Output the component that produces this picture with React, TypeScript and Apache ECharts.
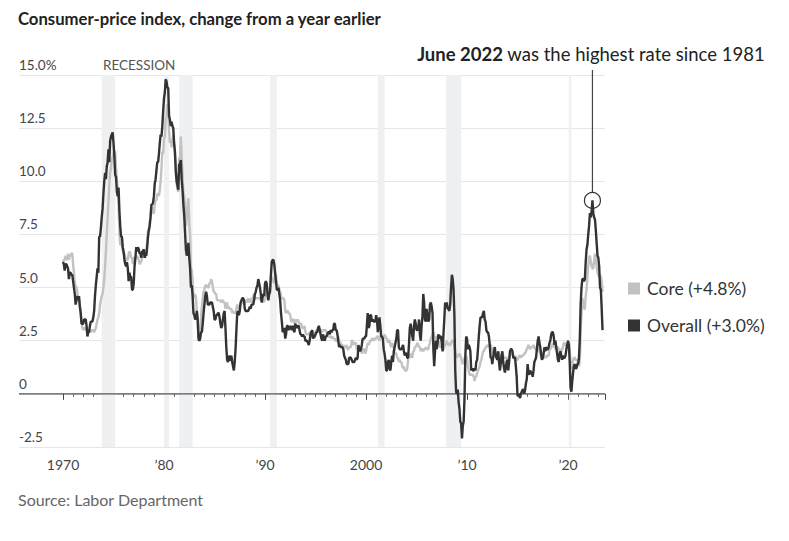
import React, { useEffect, useRef } from "react";
import * as echarts from "echarts";

const START_YEAR = 1970;

// Consumer-price index, all items, % change from a year earlier (monthly, Jan 1970 – Jun 2023)
const overall: number[] = [
  6.2, 6.1, 5.8, 6.1, 6.1, 6.0, 5.9, 5.4, 5.7, 5.7, 5.6, 5.6,
  5.3, 5.0, 4.7, 4.2, 4.4, 4.6, 4.4, 4.6, 4.1, 3.8, 3.3, 3.3,
  3.3, 3.5, 3.5, 3.5, 3.2, 2.7, 2.9, 2.9, 3.2, 3.4, 3.4, 3.4,
  3.6, 3.9, 4.6, 5.1, 5.5, 5.9, 5.7, 7.4, 7.4, 7.8, 8.3, 8.7,
  9.4, 10.0, 10.4, 10.1, 10.7, 10.9, 11.5, 10.9, 11.9, 12.1, 12.2, 12.3,
  11.8, 11.2, 10.3, 10.2, 9.5, 9.3, 9.7, 8.6, 7.9, 7.4, 7.4, 6.9,
  6.7, 6.3, 6.1, 6.0, 6.2, 5.9, 5.3, 5.7, 5.5, 5.5, 4.9, 4.9,
  5.2, 6.0, 6.4, 6.9, 6.7, 6.9, 6.8, 6.6, 6.6, 6.4, 6.7, 6.7,
  6.8, 6.4, 6.6, 6.5, 6.9, 7.4, 7.7, 7.9, 8.3, 8.9, 8.9, 9.0,
  9.3, 9.9, 10.1, 10.5, 10.9, 10.9, 11.3, 11.8, 12.2, 12.1, 12.6, 13.3,
  13.9, 14.2, 14.8, 14.7, 14.4, 14.4, 13.1, 12.9, 12.6, 12.8, 12.6, 12.5,
  11.8, 11.4, 10.5, 10.0, 9.8, 9.6, 10.8, 10.8, 11.0, 10.1, 9.6, 8.9,
  8.4, 7.6, 6.8, 6.5, 6.7, 7.1, 6.4, 5.9, 5.0, 5.1, 4.6, 3.8,
  3.7, 3.5, 3.6, 3.9, 3.5, 2.6, 2.5, 2.6, 2.9, 2.9, 3.3, 3.8,
  4.2, 4.6, 4.8, 4.6, 4.2, 4.2, 4.2, 4.3, 4.3, 4.3, 4.1, 3.9,
  3.5, 3.5, 3.7, 3.7, 3.8, 3.8, 3.6, 3.3, 3.1, 3.2, 3.5, 3.8,
  3.9, 3.1, 2.2, 1.6, 1.5, 1.8, 1.6, 1.6, 1.8, 1.5, 1.3, 1.1,
  1.5, 2.1, 3.0, 3.8, 3.9, 3.7, 3.9, 4.3, 4.4, 4.5, 4.5, 4.4,
  4.0, 3.9, 3.9, 3.9, 3.9, 4.0, 4.1, 4.0, 4.2, 4.2, 4.2, 4.4,
  4.7, 4.8, 5.0, 5.1, 5.4, 5.2, 5.0, 4.7, 4.3, 4.5, 4.7, 4.6,
  5.2, 5.3, 5.2, 4.7, 4.4, 4.7, 4.8, 5.6, 6.2, 6.3, 6.3, 6.1,
  5.7, 5.3, 4.9, 4.9, 5.0, 4.7, 4.4, 3.8, 3.4, 2.9, 3.0, 3.1,
  2.6, 2.8, 3.2, 3.2, 3.0, 3.1, 3.2, 3.1, 3.0, 3.2, 3.0, 2.9,
  3.3, 3.2, 3.1, 3.2, 3.2, 3.0, 2.8, 2.8, 2.7, 2.8, 2.7, 2.7,
  2.5, 2.5, 2.5, 2.4, 2.3, 2.5, 2.8, 2.9, 3.0, 2.6, 2.7, 2.7,
  2.8, 2.9, 2.9, 3.1, 3.2, 3.0, 2.8, 2.6, 2.5, 2.8, 2.6, 2.5,
  2.7, 2.7, 2.8, 2.9, 2.9, 2.8, 3.0, 2.9, 3.0, 3.0, 3.3, 3.3,
  3.0, 3.0, 2.8, 2.5, 2.2, 2.3, 2.2, 2.2, 2.2, 2.1, 1.8, 1.7,
  1.6, 1.4, 1.4, 1.4, 1.7, 1.7, 1.7, 1.6, 1.5, 1.5, 1.5, 1.6,
  1.7, 1.6, 1.7, 2.3, 2.1, 2.0, 2.1, 2.3, 2.6, 2.6, 2.6, 2.7,
  2.7, 3.2, 3.8, 3.1, 3.2, 3.7, 3.7, 3.4, 3.5, 3.4, 3.4, 3.4,
  3.7, 3.5, 2.9, 3.3, 3.6, 3.2, 2.7, 2.7, 2.6, 2.1, 1.9, 1.6,
  1.1, 1.1, 1.5, 1.6, 1.2, 1.1, 1.5, 1.8, 1.5, 2.0, 2.2, 2.4,
  2.6, 3.0, 3.0, 2.2, 2.1, 2.1, 2.1, 2.2, 2.3, 2.0, 1.8, 1.9,
  1.9, 1.7, 1.7, 2.3, 3.1, 3.3, 3.0, 2.7, 2.5, 3.2, 3.5, 3.3,
  3.0, 3.0, 3.1, 3.5, 2.8, 2.5, 3.2, 3.6, 4.7, 4.3, 3.5, 3.4,
  4.0, 3.6, 3.4, 3.5, 4.2, 4.3, 4.1, 3.8, 2.1, 1.3, 2.0, 2.5,
  2.1, 2.4, 2.8, 2.6, 2.7, 2.7, 2.4, 2.0, 2.8, 3.5, 4.3, 4.1,
  4.3, 4.0, 4.0, 3.9, 4.2, 5.0, 5.6, 5.4, 4.9, 3.7, 1.1, 0.1,
  0.0, 0.2, -0.4, -0.7, -1.3, -1.4, -2.1, -1.5, -1.3, -0.2, 1.8, 2.7,
  2.6, 2.1, 2.3, 2.2, 2.0, 1.1, 1.2, 1.1, 1.1, 1.2, 1.1, 1.5,
  1.6, 2.1, 2.7, 3.2, 3.6, 3.6, 3.6, 3.8, 3.9, 3.5, 3.4, 3.0,
  2.9, 2.9, 2.7, 2.3, 1.7, 1.7, 1.4, 1.7, 2.0, 2.2, 1.8, 1.7,
  1.6, 2.0, 1.5, 1.1, 1.4, 1.8, 2.0, 1.5, 1.2, 1.0, 1.2, 1.5,
  1.6, 1.1, 1.5, 2.0, 2.1, 2.1, 2.0, 1.7, 1.7, 1.7, 1.3, 0.8,
  -0.1, 0.0, -0.1, -0.2, 0.0, 0.1, 0.2, 0.2, 0.0, 0.2, 0.5, 0.7,
  1.4, 1.0, 0.9, 1.1, 1.0, 1.0, 0.8, 1.1, 1.5, 1.6, 1.7, 2.1,
  2.5, 2.7, 2.4, 2.2, 1.9, 1.6, 1.7, 1.9, 2.2, 2.0, 2.2, 2.1,
  2.1, 2.2, 2.4, 2.5, 2.8, 2.9, 2.9, 2.7, 2.3, 2.5, 2.2, 1.9,
  1.6, 1.5, 1.9, 2.0, 1.8, 1.6, 1.8, 1.7, 1.7, 1.8, 2.1, 2.3,
  2.5, 2.3, 1.5, 0.3, 0.1, 0.6, 1.0, 1.3, 1.4, 1.2, 1.2, 1.4,
  1.4, 1.7, 2.6, 4.2, 5.0, 5.4, 5.4, 5.3, 5.4, 6.2, 6.8, 7.0,
  7.5, 7.9, 8.5, 8.3, 8.6, 9.1, 8.5, 8.3, 8.2, 7.7, 7.1, 6.5,
  6.4, 6.0, 5.0, 4.9, 4.0, 3.0,
];

// Core CPI (ex food and energy), % change from a year earlier
const core: number[] = [
  6.2, 6.3, 6.3, 6.5, 6.4, 6.3, 6.6, 6.3, 6.5, 6.5, 6.6, 6.6,
  6.1, 5.7, 5.2, 5.1, 5.0, 4.8, 4.5, 4.5, 4.2, 3.9, 3.4, 3.1,
  3.0, 3.1, 3.1, 3.0, 3.0, 3.0, 3.0, 3.0, 3.0, 2.9, 3.0, 3.0,
  3.0, 2.9, 3.0, 3.1, 3.3, 3.5, 3.6, 3.8, 4.2, 4.4, 4.6, 4.7,
  5.0, 5.4, 6.0, 6.7, 7.5, 8.3, 9.0, 9.9, 10.4, 10.6, 11.1, 11.1,
  11.3, 11.4, 11.4, 10.6, 10.1, 9.5, 8.9, 7.6, 7.0, 7.1, 7.0, 6.7,
  6.6, 6.6, 6.4, 6.3, 6.3, 6.3, 6.6, 6.7, 6.6, 6.4, 6.4, 6.1,
  6.4, 6.4, 6.4, 6.4, 6.5, 6.4, 6.3, 6.1, 6.2, 6.2, 6.4, 6.5,
  6.5, 6.5, 6.4, 6.8, 7.1, 7.7, 7.7, 8.1, 8.3, 8.7, 8.8, 8.5,
  8.5, 8.9, 9.1, 9.1, 9.4, 9.4, 9.3, 9.6, 10.0, 10.6, 11.4, 11.3,
  12.0, 12.1, 13.0, 13.0, 13.6, 13.6, 12.4, 11.8, 12.0, 11.6, 11.9, 12.2,
  11.8, 11.2, 10.4, 9.9, 9.6, 9.5, 11.1, 11.1, 12.1, 11.2, 10.3, 9.5,
  9.3, 8.7, 7.9, 8.3, 8.9, 9.2, 8.0, 7.5, 5.9, 5.8, 5.4, 4.5,
  4.6, 4.7, 4.5, 3.9, 3.5, 2.5, 2.7, 3.1, 3.6, 4.1, 4.5, 4.8,
  4.9, 5.1, 5.1, 5.1, 5.0, 5.0, 5.2, 5.2, 5.4, 5.3, 5.0, 4.8,
  4.8, 4.7, 4.7, 4.4, 4.4, 4.4, 4.4, 4.4, 4.3, 4.4, 4.4, 4.3,
  4.3, 4.0, 4.2, 4.3, 4.0, 4.1, 4.0, 4.0, 4.0, 3.8, 3.9, 3.8,
  3.8, 3.8, 4.0, 4.2, 4.1, 4.0, 4.1, 4.2, 4.3, 4.3, 4.4, 4.2,
  4.3, 4.4, 4.4, 4.3, 4.5, 4.3, 4.5, 4.4, 4.3, 4.4, 4.6, 4.7,
  4.5, 4.5, 4.5, 4.5, 4.5, 4.5, 4.5, 4.4, 4.4, 4.4, 4.3, 4.4,
  4.4, 4.6, 4.8, 4.9, 4.8, 5.0, 5.0, 5.5, 5.5, 5.3, 5.3, 5.2,
  5.6, 5.6, 5.2, 5.1, 5.1, 4.9, 4.8, 4.6, 4.5, 4.5, 4.5, 4.4,
  3.9, 3.8, 3.9, 3.9, 3.8, 3.8, 3.7, 3.4, 3.4, 3.5, 3.5, 3.3,
  3.5, 3.4, 3.4, 3.5, 3.4, 3.3, 3.3, 3.3, 3.1, 3.1, 3.1, 3.2,
  2.9, 2.8, 2.8, 2.8, 2.8, 2.9, 2.9, 2.9, 3.0, 2.9, 2.8, 2.6,
  2.9, 3.0, 3.0, 3.0, 3.1, 3.0, 3.0, 3.0, 2.9, 3.0, 3.0, 3.0,
  3.0, 2.9, 2.8, 2.7, 2.7, 2.7, 2.7, 2.6, 2.7, 2.6, 2.6, 2.6,
  2.5, 2.5, 2.5, 2.7, 2.5, 2.4, 2.4, 2.3, 2.2, 2.3, 2.2, 2.2,
  2.2, 2.3, 2.1, 2.1, 2.2, 2.2, 2.2, 2.5, 2.5, 2.3, 2.4, 2.4,
  2.4, 2.1, 2.1, 2.2, 2.0, 2.1, 2.1, 1.9, 2.0, 2.1, 2.1, 1.9,
  2.0, 2.2, 2.4, 2.3, 2.4, 2.5, 2.5, 2.6, 2.6, 2.5, 2.6, 2.6,
  2.6, 2.7, 2.7, 2.6, 2.5, 2.7, 2.7, 2.6, 2.6, 2.6, 2.8, 2.7,
  2.6, 2.6, 2.4, 2.5, 2.5, 2.3, 2.2, 2.4, 2.2, 2.2, 2.0, 1.9,
  1.9, 1.7, 1.7, 1.5, 1.6, 1.5, 1.5, 1.3, 1.2, 1.3, 1.1, 1.1,
  1.1, 1.2, 1.6, 1.8, 1.7, 1.9, 1.8, 1.7, 2.0, 2.0, 2.2, 2.2,
  2.3, 2.4, 2.3, 2.2, 2.2, 2.0, 2.1, 2.1, 2.0, 2.1, 2.1, 2.2,
  2.1, 2.1, 2.1, 2.3, 2.4, 2.6, 2.7, 2.8, 2.9, 2.7, 2.6, 2.6,
  2.7, 2.7, 2.5, 2.3, 2.2, 2.2, 2.2, 2.1, 2.1, 2.2, 2.3, 2.4,
  2.5, 2.3, 2.4, 2.3, 2.3, 2.4, 2.5, 2.5, 2.5, 2.2, 2.0, 1.8,
  1.7, 1.8, 1.8, 1.9, 1.8, 1.7, 1.5, 1.4, 1.5, 1.7, 1.7, 1.8,
  1.6, 1.3, 1.1, 0.9, 0.9, 0.9, 0.9, 0.9, 0.8, 0.6, 0.8, 0.8,
  1.0, 1.1, 1.2, 1.3, 1.5, 1.6, 1.8, 2.0, 2.0, 2.1, 2.2, 2.2,
  2.3, 2.2, 2.3, 2.3, 2.3, 2.2, 2.1, 1.9, 2.0, 2.0, 1.9, 1.9,
  1.9, 2.0, 1.9, 1.7, 1.7, 1.6, 1.7, 1.8, 1.7, 1.7, 1.7, 1.7,
  1.6, 1.6, 1.7, 1.8, 2.0, 1.9, 1.9, 1.7, 1.7, 1.8, 1.7, 1.6,
  1.6, 1.7, 1.8, 1.8, 1.7, 1.8, 1.8, 1.8, 1.9, 1.9, 2.0, 2.1,
  2.2, 2.3, 2.2, 2.1, 2.2, 2.2, 2.2, 2.3, 2.2, 2.1, 2.1, 2.2,
  2.3, 2.2, 2.0, 1.9, 1.7, 1.7, 1.7, 1.7, 1.7, 1.8, 1.7, 1.8,
  1.8, 1.8, 2.1, 2.1, 2.2, 2.3, 2.4, 2.2, 2.2, 2.1, 2.2, 2.2,
  2.2, 2.1, 2.0, 2.1, 2.0, 2.1, 2.2, 2.4, 2.4, 2.3, 2.3, 2.3,
  2.3, 2.4, 2.1, 1.4, 1.2, 1.2, 1.6, 1.7, 1.7, 1.6, 1.6, 1.6,
  1.4, 1.3, 1.6, 3.0, 3.8, 4.5, 4.3, 4.0, 4.0, 4.6, 4.9, 5.5,
  6.0, 6.4, 6.5, 6.2, 6.0, 5.9, 5.9, 6.3, 6.6, 6.3, 6.0, 5.7,
  5.6, 5.5, 5.6, 5.5, 5.3, 4.8,
];

// NBER recessions as [start, end] in decimal years
const recessionStarts: number[] = [1973.83, 1980.0, 1981.5, 1990.5, 2001.17, 2007.92, 2020.08];
const recessionEnds: number[] = [1975.17, 1980.5, 1982.83, 1991.17, 2001.83, 2009.42, 2020.33];

const decadeValues: number[] = [1970, 1980, 1990, 2000, 2010, 2020];
const decadeLabels: string[] = ["1970", "\u201980", "\u201990", "2000", "\u201910", "\u201920"];

const yTickValues: number[] = [-2.5, 0, 2.5, 5, 7.5, 10, 12.5, 15];
const yTickLabels: string[] = ["-2.5", "0", "2.5", "5.0", "7.5", "10.0", "12.5", "15.0%"];

const seriesNames = ["Core", "Overall"];
const latestCore = "+4.8%";
const latestOverall = "+3.0%";
const peakYear = 2022;
const peakMonth = 6;

const FONT = "Lato, 'Noto Sans', sans-serif";

export default function App() {
  const ref = useRef<HTMLDivElement>(null);

  useEffect(() => {
    document.body.style.margin = "0";
    if (!ref.current) return;
    const chart = echarts.init(ref.current, undefined, { renderer: "svg" });

    const toXY = (arr: number[]) => arr.map((v, i) => [START_YEAR + i / 12, v]);
    const peakX = peakYear + (peakMonth - 1) / 12;
    const peakIdx = (peakYear - START_YEAR) * 12 + (peakMonth - 1);
    const peakVal = overall[peakIdx];

    const gridTop = 75;
    const gridHeight = 372;
    const gridRight = 184;

    const option: any = {
      animation: false,
      backgroundColor: "#ffffff",
      textStyle: { fontFamily: FONT },
      grid: [
        { left: 63, right: gridRight, top: gridTop, height: gridHeight, containLabel: false },
        { left: 19, right: gridRight, top: gridTop, height: gridHeight, containLabel: false },
      ],
      xAxis: [
        {
          type: "value",
          gridIndex: 0,
          min: 1970,
          max: 2023.66,
          interval: 10,
          axisLine: { show: false },
          splitLine: { show: false },
          axisTick: { show: true, length: 6, lineStyle: { color: "#444", width: 1 } },
          minorTick: { show: true, splitNumber: 10, length: 3, lineStyle: { color: "#666", width: 1 } },
          minorSplitLine: { show: false },
          axisLabel: {
            margin: 10,
            color: "#444",
            fontSize: 14,
            fontFamily: FONT,
            formatter: (v: number) => {
              const i = decadeValues.indexOf(Math.round(v));
              return i >= 0 ? decadeLabels[i] : "";
            },
          },
        },
        {
          type: "value",
          gridIndex: 1,
          min: 0,
          max: 1,
          show: false,
        },
      ],
      yAxis: [
        {
          type: "value",
          gridIndex: 0,
          min: -2.5,
          max: 15,
          interval: 2.5,
          show: false,
        },
        {
          type: "value",
          gridIndex: 1,
          min: -2.5,
          max: 15,
          interval: 2.5,
          axisLine: { show: false },
          axisTick: { show: false },
          splitLine: { show: true, lineStyle: { color: "#e6e6e6", width: 1 } },
          axisLabel: {
            inside: true,
            margin: 0,
            align: "left",
            verticalAlign: "bottom",
            padding: [0, 0, 3, 0],
            color: "#444",
            fontSize: 13.5,
            fontFamily: FONT,
            formatter: (v: number) => {
              const i = yTickValues.indexOf(v);
              return i >= 0 ? yTickLabels[i] : "";
            },
          },
        },
      ],
      legend: {
        orient: "vertical",
        left: 623,
        top: 274,
        itemWidth: 12,
        itemHeight: 12,
        itemGap: 18,
        icon: "rect",
        selectedMode: false,
        data: seriesNames,
        textStyle: { fontSize: 17.5, color: "#333", fontFamily: FONT, lineHeight: 19, padding: [0, 0, 0, 2] },
        formatter: (name: string) =>
          name === "Core" ? `Core (${latestCore})` : `Overall (${latestOverall})`,
      },
      series: [
        {
          name: "zero",
          type: "line",
          xAxisIndex: 1,
          yAxisIndex: 1,
          data: [
            [0, 0],
            [1, 0],
          ],
          showSymbol: false,
          silent: true,
          lineStyle: { color: "#555", width: 1.3 },
          z: 1,
        },
        {
          name: "Core",
          type: "line",
          xAxisIndex: 0,
          yAxisIndex: 0,
          data: toXY(core),
          showSymbol: false,
          lineStyle: { color: "#c2c2c2", width: 2.4 },
          itemStyle: { color: "#c2c2c2" },
          z: 3,
          markArea: {
            silent: true,
            itemStyle: { color: "#eff0f2" },
            data: recessionStarts.map((s, i) => [{ xAxis: s }, { xAxis: recessionEnds[i] }]),
          },
        },
        {
          name: "Overall",
          type: "line",
          xAxisIndex: 0,
          yAxisIndex: 0,
          data: toXY(overall),
          showSymbol: false,
          lineStyle: { color: "#333333", width: 2.4 },
          itemStyle: { color: "#333333" },
          z: 4,
        },
      ],
      graphic: [
        {
          type: "text",
          left: 18,
          top: 10,
          style: {
            text: "Consumer-price index, change from a year earlier",
            fontFamily: FONT,
            fontSize: 16.7,
            fontWeight: "bold",
            fill: "#222",
          },
        },
        {
          type: "text",
          left: 103,
          top: 58,
          style: { text: "RECESSION", fontFamily: FONT, fontSize: 13.5, fill: "#555" },
        },
        {
          type: "text",
          left: 18,
          top: 491,
          style: { text: "Source: Labor Department", fontFamily: FONT, fontSize: 16, fill: "#666" },
        },
        {
          type: "text",
          right: 24,
          top: 44,
          style: {
            text: "{b|June 2022} was the highest rate since 1981",
            fontFamily: FONT,
            fontSize: 18.5,
            fill: "#222",
            rich: {
              b: { fontFamily: FONT, fontSize: 18.5, fontWeight: "bold", fill: "#222" },
            },
          },
        },
      ],
    };

    chart.setOption(option);

    const p = chart.convertToPixel({ gridIndex: 0 }, [peakX, peakVal]) as number[];
    const r = 8;
    chart.setOption({
      graphic: [
        ...option.graphic,
        {
          type: "line",
          shape: { x1: p[0], y1: 70, x2: p[0], y2: p[1] - r },
          style: { stroke: "#444", lineWidth: 1.2 },
          z: 10,
        },
        {
          type: "circle",
          shape: { cx: p[0], cy: p[1], r },
          style: { stroke: "#333", lineWidth: 1.2, fill: "none" },
          z: 10,
        },
      ],
    });

    return () => chart.dispose();
  }, []);

  return (
    <div
      ref={ref}
      style={{ position: "absolute", left: 0, top: 0, width: 789, height: 541 }}
    />
  );
}
